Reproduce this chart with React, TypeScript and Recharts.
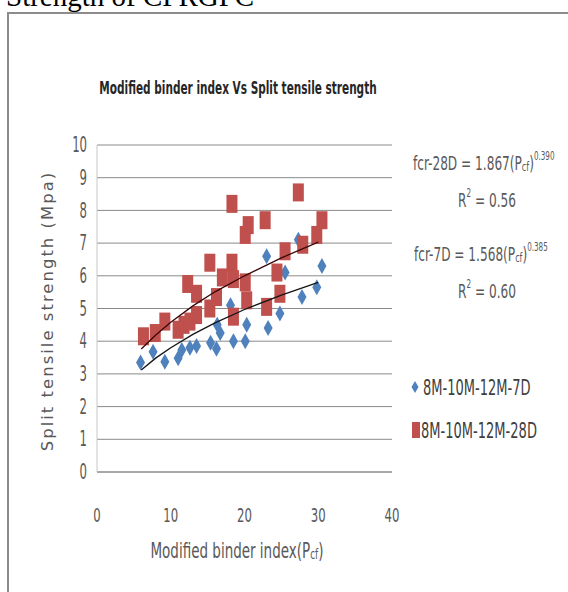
import React from 'react';
import { ScatterChart, Scatter, XAxis, YAxis, CartesianGrid } from 'recharts';

// binder index (x) and split tensile strength (y), 7 day specimens
const x7D = [5.9, 7.6, 9.2, 11.0, 11.5, 12.6, 13.5, 15.4, 16.2, 16.7, 16.3, 18.5, 18.1, 20.1, 20.3, 23.0, 23.2, 24.8, 25.5, 27.3, 27.8, 29.8, 30.5];
const y7D = [3.35, 3.68, 3.37, 3.48, 3.73, 3.8, 3.85, 3.95, 3.77, 4.25, 4.5, 4.0, 5.1, 4.0, 4.5, 6.6, 4.4, 4.85, 6.1, 7.1, 5.35, 5.65, 6.3];

// 28 day specimens
const x28D = [6.3, 7.9, 9.2, 11.0, 11.8, 12.6, 13.5, 12.3, 13.5, 15.3, 15.3, 16.2, 17.0, 18.3, 18.3, 18.5, 18.5, 20.1, 20.3, 20.1, 20.5, 22.8, 23.0, 24.4, 24.8, 25.5, 27.3, 27.9, 29.8, 30.5];
const y28D = [4.15, 4.25, 4.6, 4.35, 4.5, 4.6, 4.8, 5.75, 5.45, 6.4, 5.0, 5.35, 5.95, 6.4, 8.2, 5.9, 4.75, 5.8, 5.25, 7.25, 7.55, 7.7, 5.05, 6.1, 5.45, 6.75, 8.55, 6.95, 7.25, 7.7];

// power trendlines as drawn on the chart
const trendX = [6, 8, 10, 13, 16, 20, 25, 30];
const trend28D = [3.76, 4.2, 4.58, 5.08, 5.51, 6.0, 6.55, 7.03];
const trend7D = [3.12, 3.49, 3.8, 4.21, 4.56, 4.97, 5.41, 5.8];

const xTicks = [0, 10, 20, 30, 40];
const yTicks = [0, 1, 2, 3, 4, 5, 6, 7, 8, 9, 10];

const pts = (xs: number[], ys: number[]) => xs.map((x, i) => ({ x, y: ys[i] }));
const data7D = pts(x7D, y7D);
const data28D = pts(x28D, y28D);
const line28D = pts(trendX, trend28D);
const line7D = pts(trendX, trend7D);

const FONT = '"Liberation Sans Narrow", "DejaVu Sans Condensed", sans-serif';
const BLUE = '#4F81BD';
const RED = '#C0504D';

const Diamond = (props: any) => {
  const { cx, cy } = props;
  return <path d={`M${cx},${cy - 8} L${cx + 4.5},${cy} L${cx},${cy + 8} L${cx - 4.5},${cy} Z`} fill={BLUE} />;
};

const Square = (props: any) => {
  const { cx, cy } = props;
  return <rect x={cx - 5.5} y={cy - 9} width={11} height={18} fill={RED} />;
};

const XTick = (props: any) => {
  const { x, y, payload } = props;
  return (
    <text transform={`translate(${x},${y + 35}) scale(1,1.55)`} textAnchor="middle" dominantBaseline="central"
      fontFamily={FONT} fontSize={13} fill="#595959">{payload.value}</text>
  );
};

const YTick = (props: any) => {
  const { x, y, payload } = props;
  return (
    <text transform={`translate(${x - 2},${y}) scale(1,1.6)`} textAnchor="end" dominantBaseline="central"
      fontFamily={FONT} fontSize={13} fill="#595959">{payload.value}</text>
  );
};

const LegendBox = () => (
  <g transform="translate(405,370)">
    <path d="M10,11 L13.5,17 L10,23 L6.5,17 Z" fill={BLUE} />
    <text transform="translate(18,17) scale(1,1.45)" dominantBaseline="central" fontFamily={FONT} fontSize={14.5} fill="#404040">8M-10M-12M-7D</text>
    <rect x={7} y={52} width={8} height={16} fill={RED} />
    <text transform="translate(16,60) scale(1,1.45)" dominantBaseline="central" fontFamily={FONT} fontSize={14.5} fill="#404040">8M-10M-12M-28D</text>
  </g>
);

const Annotations = () => (
  <svg width={568} height={592} style={{ position: 'absolute', left: 0, top: 0, pointerEvents: 'none' }}>
    <text transform="translate(238,88) scale(0.9,1.4)" textAnchor="middle" dominantBaseline="central"
      fontFamily={FONT} fontSize={13} fontWeight="bold" fill="#262626">Modified binder index Vs Split tensile strength</text>
    <text transform="translate(47,311) rotate(-90)" textAnchor="middle" dominantBaseline="central"
      fontFamily='"DejaVu Sans", sans-serif' fontSize={16.5} fill="#595959" letterSpacing={2}>Split tensile strength (Mpa)</text>
    <text transform="translate(237,550) scale(1,1.45)" textAnchor="middle" dominantBaseline="central"
      fontFamily={FONT} fontSize={15} fill="#595959">Modified binder index(P<tspan fontSize={10} dy={2}>cf</tspan><tspan dy={-2}>)</tspan></text>
    <g fontFamily={FONT} fontSize={13.5} fill="#595959">
      <text transform="translate(413,163) scale(1,1.45)" dominantBaseline="central">fcr-28D = 1.867(P<tspan fontSize={9} dy={2}>cf</tspan><tspan dy={-2}>)</tspan><tspan fontSize={8} dy={-5}>0.390</tspan></text>
      <text transform="translate(487,200) scale(1,1.45)" textAnchor="middle" dominantBaseline="central">R<tspan fontSize={8} dy={-5}>2</tspan><tspan dy={5}> = 0.56</tspan></text>
      <text transform="translate(414,254) scale(1,1.45)" dominantBaseline="central">fcr-7D = 1.568(P<tspan fontSize={9} dy={2}>cf</tspan><tspan dy={-2}>)</tspan><tspan fontSize={8} dy={-5}>0.385</tspan></text>
      <text transform="translate(487,291) scale(1,1.45)" textAnchor="middle" dominantBaseline="central">R<tspan fontSize={8} dy={-5}>2</tspan><tspan dy={5}> = 0.60</tspan></text>
    </g>
    <LegendBox />
  </svg>
);

const App: React.FC = () => {
  return (
    <div style={{ position: 'absolute', left: 0, top: 0, width: 568, height: 592, overflow: 'hidden', background: '#fff' }}>
      <div style={{ position: 'absolute', left: 6, top: -20, fontFamily: '"Liberation Serif", serif', fontSize: 29, color: '#000', whiteSpace: 'nowrap' }}>
        Strength of CPRGPC
      </div>
      <div style={{ position: 'absolute', left: 7, top: 12, width: 561, height: 580, borderTop: '2px solid #8c8c8c', borderLeft: '2px solid #8c8c8c' }} />
      <ScatterChart width={568} height={592} margin={{ top: 145, right: 176, bottom: 90, left: 0 }} style={{ position: 'absolute', left: 0, top: 0 }}>
        <CartesianGrid vertical={false} stroke="#8a8a8a" />
        <XAxis type="number" dataKey="x" domain={[0, 40]} ticks={xTicks} height={30} axisLine={{ stroke: '#8a8a8a' }} tickLine={false} tick={<XTick />} allowDataOverflow />
        <YAxis type="number" dataKey="y" domain={[0, 10]} ticks={yTicks} width={97} axisLine={{ stroke: '#c8c8c8' }} tickLine={false} tick={<YTick />} allowDataOverflow />
        <Scatter name="8M-10M-12M-7D" data={data7D} shape={<Diamond />} isAnimationActive={false} />
        <Scatter name="8M-10M-12M-28D" data={data28D} shape={<Square />} isAnimationActive={false} />
        <Scatter data={line28D} line={{ stroke: '#3a0808', strokeWidth: 1.3 }} lineType="joint" shape={() => null} isAnimationActive={false} legendType="none" />
        <Scatter data={line7D} line={{ stroke: '#141414', strokeWidth: 1.3 }} lineType="joint" shape={() => null} isAnimationActive={false} legendType="none" />
      </ScatterChart>
      <Annotations />
    </div>
  );
};

export default App;
